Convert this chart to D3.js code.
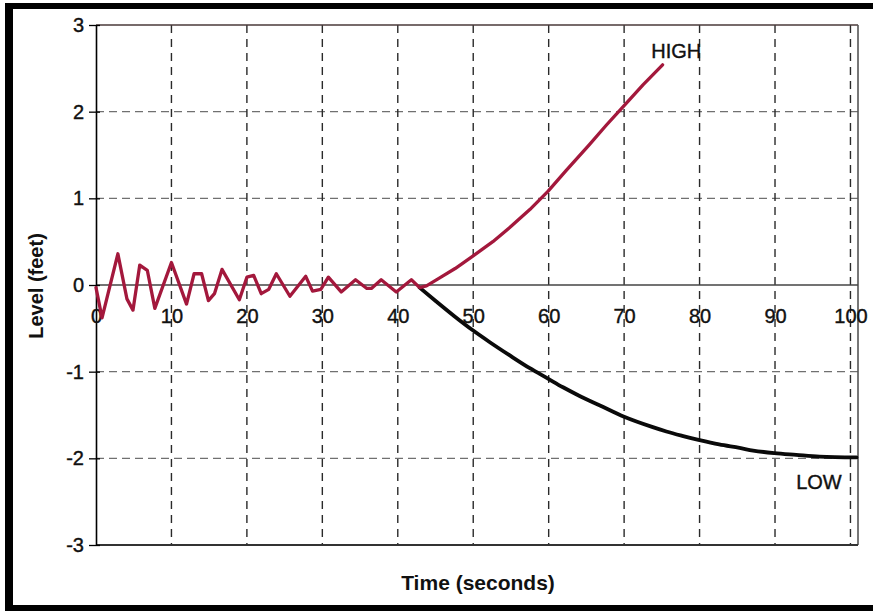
<!DOCTYPE html>
<html>
<head>
<meta charset="utf-8">
<script src="https://cdn.jsdelivr.net/npm/d3@7"></script>
<style>
  html, body { margin: 0; padding: 0; background: #fff; }
  svg { display: block; }
  text { font-family: Arial, "Liberation Sans", sans-serif; fill: #111; }
</style>
</head>
<body>
<svg id="chart" width="873" height="611"></svg>
<script>
// Level response over time: oscillation that settles, then diverges HIGH or LOW
const highTime  = [0, 0.8, 2.9, 4.1, 4.9, 5.8, 6.8, 7.8, 10.0, 12.0, 13.0, 14.0, 14.9, 15.7, 16.7, 19.0,
                   20.0, 20.9, 21.9, 22.9, 23.9, 25.7, 27.8, 28.7, 29.8, 30.8, 32.5, 34.4, 35.9, 36.5,
                   37.8, 39.8, 41.8, 42.9, 43.8, 45.5, 47.6, 49.9, 52.6, 54.8, 57.5, 59.9, 62.3, 65.4,
                   67.6, 70.0, 72.5, 75.1];
const highLevel = [-0.03, -0.38, 0.36, -0.16, -0.29, 0.23, 0.17, -0.27, 0.26, -0.22, 0.13, 0.13, -0.18, -0.10, 0.18, -0.17,
                   0.09, 0.11, -0.10, -0.05, 0.13, -0.13, 0.10, -0.07, -0.05, 0.09, -0.08, 0.06, -0.04, -0.04,
                   0.06, -0.08, 0.06, -0.03, -0.01, 0.08, 0.19, 0.33, 0.50, 0.66, 0.87, 1.08, 1.32, 1.62,
                   1.84, 2.07, 2.31, 2.54];

const lowTime  = [42.9, 45.1, 47.5, 49.9, 52.2, 54.8, 57.5, 59.9, 61.9, 64.1, 66.8, 70.0, 73.8, 75.6,
                  77.7, 80.0, 82.6, 85.3, 87.1, 89.9, 92.8, 95.9, 100.8];
const lowLevel = [-0.03, -0.19, -0.36, -0.52, -0.66, -0.81, -0.96, -1.08, -1.18, -1.28, -1.39, -1.52, -1.64, -1.69,
                  -1.74, -1.79, -1.84, -1.88, -1.91, -1.94, -1.96, -1.98, -1.99];

const xTicks = [0, 10, 20, 30, 40, 50, 60, 70, 80, 90, 100];
const yTicks = [-3, -2, -1, 0, 1, 2, 3];

const seriesLabels = [
  { name: "HIGH", t: 73.6, v: 2.62 },
  { name: "LOW",  t: 92.8, v: -2.35 }
];

const svg = d3.select("#chart");
const W = 873, H = 611;

// outer frame (left, top and bottom bars)
svg.append("rect").attr("x", 0).attr("y", 0).attr("width", W).attr("height", H).attr("fill", "#fff");
svg.append("rect").attr("x", 5).attr("y", 3).attr("width", W - 5).attr("height", 6).attr("fill", "#000");
svg.append("rect").attr("x", 5).attr("y", 3).attr("width", 8).attr("height", H - 3).attr("fill", "#000");
svg.append("rect").attr("x", 5).attr("y", 605).attr("width", W - 5).attr("height", 6).attr("fill", "#000");

const plot = { left: 96, right: 858, top: 25, bottom: 545 };

const x = d3.scaleLinear().domain([0, 101]).range([plot.left, plot.right]);
const y = d3.scaleLinear().domain([-3, 3]).range([plot.bottom, plot.top]);

// horizontal dashed gridlines
svg.append("g")
  .selectAll("line")
  .data(yTicks.filter(v => v !== 0 && v !== 3 && v !== -3))
  .join("line")
  .attr("x1", plot.left).attr("x2", plot.right)
  .attr("y1", d => y(d)).attr("y2", d => y(d))
  .attr("stroke", "#707070").attr("stroke-width", 1.3)
  .attr("stroke-dasharray", "8,5");

// vertical dashed gridlines
svg.append("g")
  .selectAll("line")
  .data(xTicks.filter(v => v !== 0))
  .join("line")
  .attr("x1", d => x(d)).attr("x2", d => x(d))
  .attr("y1", plot.top).attr("y2", plot.bottom)
  .attr("stroke", "#2a2a2a").attr("stroke-width", 1.4)
  .attr("stroke-dasharray", "8,6");

// plot frame
svg.append("line").attr("x1", plot.left).attr("x2", plot.right).attr("y1", plot.top).attr("y2", plot.top)
  .attr("stroke", "#4a3a3a").attr("stroke-width", 1.6);
svg.append("line").attr("x1", plot.right).attr("x2", plot.right).attr("y1", plot.top).attr("y2", plot.bottom)
  .attr("stroke", "#555").attr("stroke-width", 1.6);
svg.append("line").attr("x1", plot.left).attr("x2", plot.right).attr("y1", plot.bottom).attr("y2", plot.bottom)
  .attr("stroke", "#333").attr("stroke-width", 2);

// zero line
svg.append("line").attr("x1", plot.left).attr("x2", plot.right).attr("y1", y(0)).attr("y2", y(0))
  .attr("stroke", "#444").attr("stroke-width", 1.6);

// y axis with crossing tick marks
const yAxis = svg.append("g")
  .attr("transform", `translate(${plot.left},0)`)
  .call(d3.axisLeft(y).tickValues(yTicks).tickSizeInner(7).tickSizeOuter(0).tickPadding(5)
        .tickFormat(d3.format("d")));
yAxis.select(".domain").attr("stroke", "#000").attr("stroke-width", 1.6);
yAxis.selectAll(".tick line").attr("x1", 4).attr("stroke", "#000").attr("stroke-width", 1.3);
yAxis.selectAll(".tick text")
  .attr("font-size", 20).attr("fill", "#111")
  .attr("stroke", "#111").attr("stroke-width", 0.4)
  .attr("font-family", "Arial, 'Liberation Sans', sans-serif")
  .text(d => d < 0 ? "-" + Math.abs(d) : d);

// x tick labels sit just under the zero line
const xAxis = svg.append("g")
  .attr("transform", `translate(0,${y(0)})`)
  .call(d3.axisBottom(x).tickValues(xTicks).tickSize(0).tickPadding(24).tickFormat(d3.format("d")));
xAxis.select(".domain").remove();
xAxis.selectAll(".tick text")
  .attr("font-size", 20).attr("fill", "#111")
  .attr("stroke", "#111").attr("stroke-width", 0.4)
  .attr("font-family", "Arial, 'Liberation Sans', sans-serif");

// series
const lineGen = d3.line().x(d => x(d[0])).y(d => y(d[1]));
const smoothGen = d3.line().x(d => x(d[0])).y(d => y(d[1])).curve(d3.curveMonotoneX);
const highPts = highTime.map((t, i) => [t, highLevel[i]]);
const lowPts  = lowTime.map((t, i) => [t, lowLevel[i]]);

svg.append("path").datum(lowPts).attr("d", smoothGen)
  .attr("fill", "none").attr("stroke", "#0a0a0a").attr("stroke-width", 3.8)
  .attr("stroke-linejoin", "round").attr("stroke-linecap", "round");

svg.append("path").datum(highPts).attr("d", lineGen)
  .attr("fill", "none").attr("stroke", "#a3183c").attr("stroke-width", 3.3)
  .attr("stroke-linejoin", "round").attr("stroke-linecap", "round");

// series labels
svg.append("g").selectAll("text")
  .data(seriesLabels)
  .join("text")
  .attr("x", d => x(d.t)).attr("y", d => y(d.v))
  .attr("font-size", 20).attr("fill", "#111")
  .attr("stroke", "#111").attr("stroke-width", 0.4)
  .text(d => d.name);

// axis titles
svg.append("text")
  .attr("x", 478).attr("y", 590)
  .attr("text-anchor", "middle").attr("font-size", 21).attr("font-weight", "bold")
  .text("Time (seconds)");

svg.append("text")
  .attr("transform", `translate(43,${286}) rotate(-90)`)
  .attr("text-anchor", "middle").attr("font-size", 20).attr("font-weight", "bold")
  .text("Level (feet)");
</script>
</body>
</html>
